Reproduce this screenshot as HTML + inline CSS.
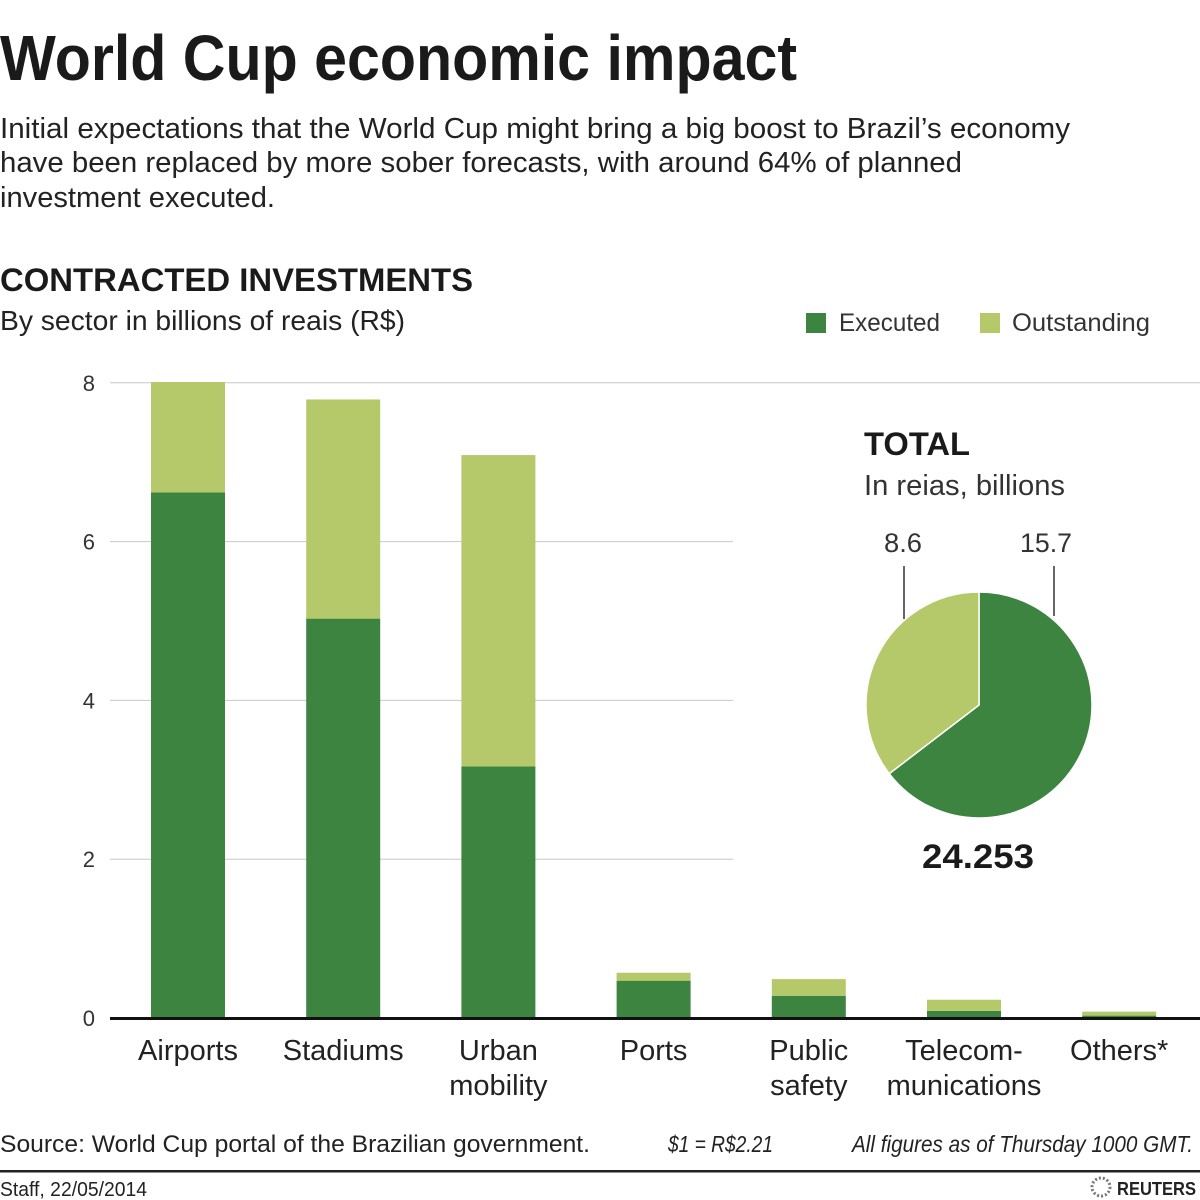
<!DOCTYPE html>
<html><head><meta charset="utf-8"><style>
html,body{margin:0;padding:0;background:#fff;}
svg{display:block;font-family:"Liberation Sans",sans-serif;}
</style></head><body>
<svg id="chart" width="1200" height="1200" viewBox="0 0 1200 1200">
<text x="0" y="80" font-size="64" font-weight="bold" fill="#1a1a1a" textLength="797" lengthAdjust="spacingAndGlyphs">World Cup economic impact</text>
<g font-size="29" fill="#222">
<text x="0" y="138" textLength="1070" lengthAdjust="spacingAndGlyphs">Initial expectations that the World Cup might bring a big boost to Brazil’s economy</text>
<text x="0" y="172" textLength="962" lengthAdjust="spacingAndGlyphs">have been replaced by more sober forecasts, with around 64% of planned</text>
<text x="0" y="207" textLength="275" lengthAdjust="spacingAndGlyphs">investment executed.</text>
</g>
<text x="0" y="291" font-size="32" font-weight="bold" fill="#1a1a1a" textLength="473" lengthAdjust="spacingAndGlyphs">CONTRACTED INVESTMENTS</text>
<text x="0" y="330" font-size="28" fill="#222" textLength="405" lengthAdjust="spacingAndGlyphs">By sector in billions of reais (R$)</text>
<g>
<rect x="806" y="313" width="20" height="20" fill="#3d8440"/>
<text x="839" y="331" font-size="25" fill="#333" textLength="101" lengthAdjust="spacingAndGlyphs">Executed</text>
<rect x="980" y="313" width="20" height="20" fill="#b5c96a"/>
<text x="1012" y="331" font-size="25" fill="#333" textLength="138" lengthAdjust="spacingAndGlyphs">Outstanding</text>
</g>
<g id="grid"></g>
<g id="bars"></g>
<g id="xlabels" font-size="29" fill="#222" text-anchor="middle"></g>
<g id="ylabels" font-size="22" fill="#333" text-anchor="end"></g>
<g>
<text x="864" y="455" font-size="32" font-weight="bold" fill="#1a1a1a" textLength="106" lengthAdjust="spacingAndGlyphs">TOTAL</text>
<text x="864" y="495" font-size="29" fill="#333" textLength="201" lengthAdjust="spacingAndGlyphs">In reias, billions</text>
<g id="pie"></g>
<text x="884" y="552" font-size="27" fill="#333" textLength="38" lengthAdjust="spacingAndGlyphs">8.6</text>
<text x="1020" y="552" font-size="27" fill="#333" textLength="52" lengthAdjust="spacingAndGlyphs">15.7</text>
<line x1="904" y1="566" x2="904" y2="619" stroke="#333" stroke-width="1.5"/>
<line x1="1054" y1="566" x2="1054" y2="616" stroke="#333" stroke-width="1.5"/>
<text x="978" y="868" font-size="34" font-weight="bold" fill="#1a1a1a" text-anchor="middle" textLength="112" lengthAdjust="spacingAndGlyphs">24.253</text>
</g>
<g fill="#222">
<text x="0" y="1152" font-size="24" textLength="590" lengthAdjust="spacingAndGlyphs">Source: World Cup portal of the Brazilian government.</text>
<text x="668" y="1152" font-size="23" font-style="italic" textLength="105" lengthAdjust="spacingAndGlyphs">$1 = R$2.21</text>
<text x="852" y="1152" font-size="23" font-style="italic" textLength="341" lengthAdjust="spacingAndGlyphs">All figures as of Thursday 1000 GMT.</text>
<rect x="0" y="1170" width="1200" height="2.5" fill="#222"/>
<text x="0" y="1196" font-size="20" textLength="147" lengthAdjust="spacingAndGlyphs">Staff, 22/05/2014</text>
<circle cx="1101" cy="1187" r="9" fill="none" stroke="#777" stroke-width="3" stroke-dasharray="2 2"/>
<text x="1117" y="1195" font-size="18" font-weight="bold" textLength="79" lengthAdjust="spacingAndGlyphs">REUTERS</text>
</g>
</svg>
<script>
const categories = [["Airports"],["Stadiums"],["Urban","mobility"],["Ports"],["Public","safety"],["Telecom-","munications"],["Others*"]];
const executed = [6.62, 5.03, 3.17, 0.47, 0.28, 0.09, 0.03];
const outstanding = [1.39, 2.76, 3.92, 0.10, 0.21, 0.14, 0.05];
const yTicks = [0, 2, 4, 6, 8];
const pieValues = [15.7, 8.6];

const NS = "http://www.w3.org/2000/svg";
const y0 = 1018, pxPerUnit = 79.4;
function yScale(v){ return y0 - v * pxPerUnit; }
function xScale(i){ return 151 + i * 155.2; }
const barW = 74;
function mk(tag, attrs, parent){ const e = document.createElementNS(NS, tag); for (const k in attrs) e.setAttribute(k, attrs[k]); parent.appendChild(e); return e; }

const grid = document.getElementById('grid');
const yl = document.getElementById('ylabels');
yTicks.forEach(t => {
  const y = yScale(t);
  const x2 = t === 8 ? 1200 : 733;
  if (t !== 0) {
    const l = mk('line', {x1:110, x2:x2, y1:y, y2:y, stroke:'#c8c8c8', 'stroke-width':1}, grid);
    
    
  }
  const tx = mk('text', {x:95, y:y+8}, yl);
  tx.textContent = t;
  
  
});

const bars = document.getElementById('bars');
const xl = document.getElementById('xlabels');
categories.forEach((c, i) => {
  const x = xScale(i);
  const ye = yScale(executed[i]);
  const yt = yScale(executed[i] + outstanding[i]);
  const r1 = mk('rect', {x:x, y:ye, width:barW, height:y0-ye, fill:'#3d8440'}, bars);
  
  
  const r2 = mk('rect', {x:x, y:yt, width:barW, height:ye-yt, fill:'#b5c96a'}, bars);
  
  
  c.forEach((line, j) => {
    const t = mk('text', {x:x+barW/2, y:1060+j*35}, xl);
    t.textContent = line;
    
    
  });
});
const base = mk('rect', {x:110, y:y0-1, width:1090, height:3, fill:'#111'}, bars);



const pie = document.getElementById('pie');
const cx = 979, cy = 705, R = 113;
const total = pieValues.reduce((a,b)=>a+b,0);
const colors = ['#3d8440', '#b5c96a'];
let a0 = 0;
pieValues.forEach((v, i) => {
  const a1 = a0 + v / total * 2 * Math.PI;
  const p = (a) => [cx + R*Math.sin(a), cy - R*Math.cos(a)];
  const [x0_, y0_] = p(a0), [x1_, y1_] = p(a1);
  const large = (a1 - a0) > Math.PI ? 1 : 0;
  const path = mk('path', {d:`M${cx},${cy} L${x0_},${y0_} A${R},${R} 0 ${large} 1 ${x1_},${y1_} Z`, fill:colors[i], stroke:'#fff', 'stroke-width':1.5}, pie);
  
  
  a0 = a1;
});
</script>
</body></html>
